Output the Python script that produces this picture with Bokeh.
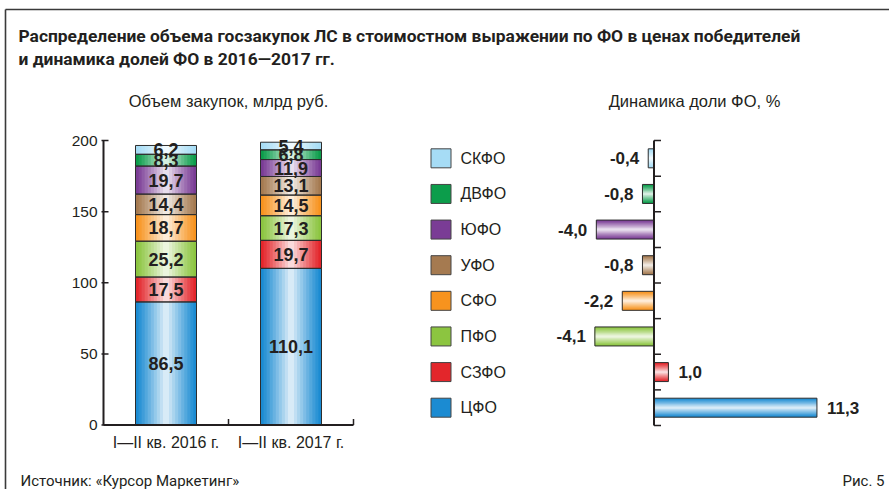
from bokeh.plotting import figure
from bokeh.models import Range1d, ColumnDataSource
from bokeh.core.properties import value
from bokeh.embed import file_html
from bokeh.resources import INLINE

# ---------------- data ----------------
title_lines = [
    "Распределение объема госзакупок ЛС в стоимостном выражении по ФО в ценах победителей",
    "и динамика долей ФО в 2016—2017 гг.",
]
left_title = "Объем закупок, млрд руб."
right_title = "Динамика доли ФО, %"
source_note = "Источник: «Курсор Маркетинг»"
fig_note = "Рис. 5"

periods = ["I—II кв. 2016 г.", "I—II кв. 2017 г."]
districts = ["ЦФО", "СЗФО", "ПФО", "СФО", "УФО", "ЮФО", "ДВФО", "СКФО"]  # stack order, bottom -> top
vol_2016 = [86.5, 17.5, 25.2, 18.7, 14.4, 19.7, 8.3, 6.2]
vol_2017 = [110.1, 19.7, 17.3, 14.5, 13.1, 11.9, 6.8, 5.4]
share_change = [11.3, 1.0, -4.1, -2.2, -0.8, -4.0, -0.8, -0.4]
district_colors = ["#1b8bd2", "#e3262b", "#8cc540", "#f7931e", "#a57a50", "#7a3c95", "#0c9d4b", "#a6dcf5"]
vol_ticks = [0, 50, 100, 150, 200]

# ---------------- layout constants (pixels inside the figure) ----------------
W, H = 889, 489
VOL_Y0, VOL_PPU = 424.5, 1.4225      # value 0 position, px per bln rub
CAT_X0, CAT_PPU = 165.5, 125.0       # first period centre, px per category
DYN_X0, DYN_PPU = 653.5, 14.42       # zero line, px per percentage point
ROW_Y0, ROW_BAND = 140.0, 35.625     # top of right axis, px per row
INK = "#231f20"
EDGE = "#2d2d2d"
SANS = value("Liberation Sans")
COND = value("Roboto")

def fmt(v):
    return f"{v:.1f}".replace(".", ",")

def mix(c, t):
    r, g, b = int(c[1:3], 16), int(c[3:5], 16), int(c[5:7], 16)
    r = round(r + (255 - r) * t); g = round(g + (255 - g) * t); b = round(b + (255 - b) * t)
    return f"#{r:02x}{g:02x}{b:02x}"

p = figure(width=W, height=H, x_range=Range1d(0, W), y_range=Range1d(H, 0),
           output_backend="svg", toolbar_location=None, min_border=0,
           x_axis_type=None, y_axis_type=None, outline_line_color=None)
p.background_fill_color = "white"
p.border_fill_color = "white"
p.extra_x_ranges = {
    "cat": Range1d(-CAT_X0 / CAT_PPU, (W - CAT_X0) / CAT_PPU),
    "dyn": Range1d(-DYN_X0 / DYN_PPU, (W - DYN_X0) / DYN_PPU),
}
p.extra_y_ranges = {
    "vol": Range1d((VOL_Y0 - H) / VOL_PPU, VOL_Y0 / VOL_PPU),
    "row": Range1d((H - ROW_Y0) / ROW_BAND, -ROW_Y0 / ROW_BAND),
}

# ---------------- frame & texts ----------------
p.segment(x0=[5, 5], y0=[9, 9], x1=[W, 5], y1=[9, H], line_color="#3a3a3a", line_width=1.6)
p.text(x=[18, 18], y=[35, 58], text=title_lines, text_font=COND,
       text_font_style="bold", text_font_size="17.4px", text_color=INK,
       text_baseline="middle", text_align="left")
p.text(x=[228, 694], y=[100, 100], text=[left_title, right_title], text_font=SANS,
       text_font_size="16.5px", text_color=INK, text_baseline="middle", text_align="center")
p.text(x=[20], y=[480], text=[source_note], text_font=COND,
       text_font_size="15px", text_color=INK, text_baseline="middle", text_align="left")
p.text(x=[884], y=[480], text=[fig_note], text_font=COND,
       text_font_size="15px", text_color=INK, text_baseline="middle", text_align="right")

# ---------------- left: stacked volumes ----------------
xs, bottoms, tops, mids, labels, bases = [], [], [], [], [], []
for pi, vals in enumerate([vol_2016, vol_2017]):
    acc = 0.0
    for di, v in enumerate(vals):
        xs.append(pi); bottoms.append(acc); tops.append(acc + v); mids.append(acc + v / 2)
        labels.append(fmt(v)); bases.append(district_colors[di])
        acc += v
BAR_W = 61 / CAT_PPU
N = 10
for k in range(N):
    f = k / N
    src = ColumnDataSource(dict(x=xs, bottom=bottoms, top=tops,
                                color=[mix(c, 0.93 * f ** 1.1) for c in bases]))
    p.vbar(x="x", bottom="bottom", top="top", width=BAR_W * (1 - f), source=src,
           fill_color="color", line_color=None, x_range_name="cat", y_range_name="vol")
p.vbar(x=xs, bottom=bottoms, top=tops, width=BAR_W, fill_color=None, line_color=EDGE,
       line_width=1, x_range_name="cat", y_range_name="vol")
p.text(x=xs, y=mids, text=labels, text_font=SANS, text_font_style="bold",
       text_font_size="18px", text_color=INK, text_align="center", text_baseline="middle",
       x_range_name="cat", y_range_name="vol")

# left axes
ax_x = -0.5
ax_end = len(periods) - 0.5
p.segment(x0=[ax_x, ax_x], y0=[vol_ticks[0], vol_ticks[0]], x1=[ax_x, ax_end],
          y1=[vol_ticks[-1], vol_ticks[0]], line_color=INK, line_width=2,
          x_range_name="cat", y_range_name="vol")
p.segment(x0=[ax_x - 2 / CAT_PPU] * len(vol_ticks), y0=vol_ticks,
          x1=[ax_x + 5 / CAT_PPU] * len(vol_ticks), y1=vol_ticks,
          line_color=INK, line_width=1.5, x_range_name="cat", y_range_name="vol")
p.text(x=[ax_x - 6 / CAT_PPU] * len(vol_ticks), y=vol_ticks, text=[str(t) for t in vol_ticks],
       text_font=SANS, text_font_size="15.5px", text_color=INK,
       text_align="right", text_baseline="middle", x_range_name="cat", y_range_name="vol")
sep = [i + 0.5 for i in range(len(periods))]
p.segment(x0=sep, y0=[0] * len(sep), x1=sep, y1=[6 / VOL_PPU] * len(sep), line_color=INK,
          line_width=1.5, x_range_name="cat", y_range_name="vol")
p.text(x=list(range(len(periods))), y=[-17.5 / VOL_PPU] * len(periods), text=periods,
       text_font=SANS, text_font_size="16px", text_color=INK,
       text_align="center", text_baseline="middle", x_range_name="cat", y_range_name="vol")

# ---------------- right: change of shares ----------------
nrow = len(districts)
rows = [nrow - 1 - i + 0.5 for i in range(nrow)]
BAR_H = 19 / ROW_BAND
for k in range(N):
    f = k / N
    src = ColumnDataSource(dict(y=rows, right=share_change,
                                color=[mix(c, 0.93 * f ** 1.1) for c in district_colors]))
    p.hbar(y="y", left=0, right="right", height=BAR_H * (1 - f), source=src,
           fill_color="color", line_color=None, x_range_name="dyn", y_range_name="row")
p.hbar(y=rows, left=0, right=share_change, height=BAR_H, fill_color=None, line_color=EDGE,
       line_width=1, x_range_name="dyn", y_range_name="row")

neg = [(r, v) for r, v in zip(rows, share_change) if v < 0]
pos = [(r, v) for r, v in zip(rows, share_change) if v >= 0]
p.text(x=[v - 9 / DYN_PPU for r, v in neg], y=[r for r, v in neg], text=[fmt(v) for r, v in neg],
       text_font=SANS, text_font_style="bold", text_font_size="17px",
       text_color=INK, text_align="right", text_baseline="middle",
       x_range_name="dyn", y_range_name="row")
p.text(x=[v + 10 / DYN_PPU for r, v in pos], y=[r for r, v in pos], text=[fmt(v) for r, v in pos],
       text_font=SANS, text_font_style="bold", text_font_size="17px",
       text_color=INK, text_align="left", text_baseline="middle",
       x_range_name="dyn", y_range_name="row")

bounds = list(range(nrow + 1))
p.segment(x0=[0], y0=[0], x1=[0], y1=[nrow], line_color=INK, line_width=2,
          x_range_name="dyn", y_range_name="row")
p.segment(x0=[0] * len(bounds), y0=bounds, x1=[7 / DYN_PPU] * len(bounds), y1=bounds,
          line_color=INK, line_width=1.5, x_range_name="dyn", y_range_name="row")

# legend
p.rect(x=[440.5] * nrow, y=rows, width=20, height=19, width_units="screen", height_units="screen",
       fill_color=district_colors, line_color="#444444", line_width=1, y_range_name="row")
p.text(x=[460] * nrow, y=rows, text=districts, text_font=SANS,
       text_font_size="16px", text_color=INK, text_align="left", text_baseline="middle",
       y_range_name="row")

open("out.html", "w").write(file_html(p, INLINE))
